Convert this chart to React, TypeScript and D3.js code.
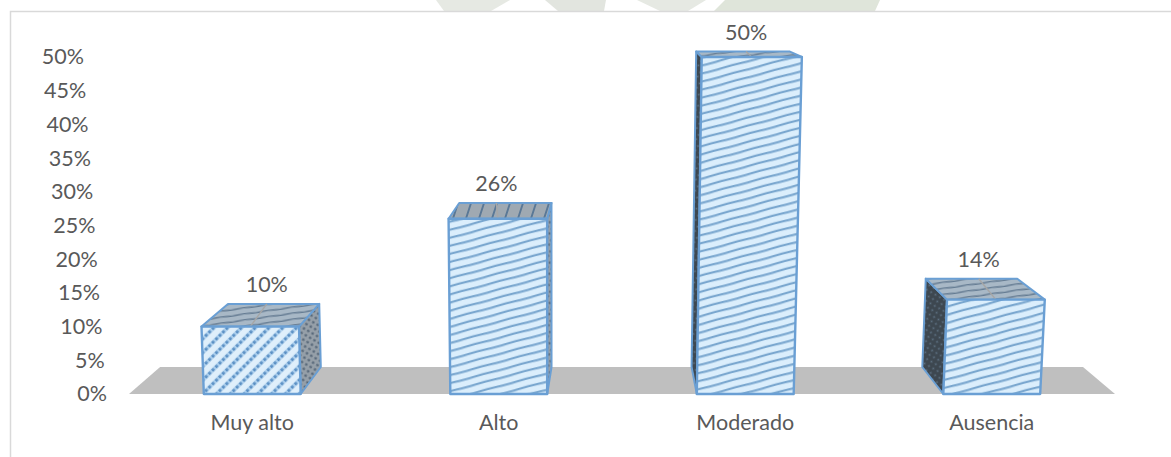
import React from 'react';
import * as d3 from 'd3';

const categories = ['Muy alto', 'Alto', 'Moderado', 'Ausencia'];
const percentages = [10, 26, 50, 14];
const labelNudge = [0, -7, 6, 2];

const width = 1171;
const height = 457;
const font = 'Lato, "Open Sans", sans-serif';
const textColor = '#595959';
const edge = '#6a9fd4';

// the 3d box is faked with a simple perspective, front plane -> back plane
const floorBackY = 367;
const depthScale = 0.936;
const depthCenter = 615;
const spread = 0.00067;
const spreadCenter = 550;

const y = d3.scaleLinear().domain([0, 50]).range([394, 57]);
const tickRight = d3.scaleLinear().domain([0, 50]).range([107, 84]);
const x = d3.scaleBand<string>().domain(categories).range([129, 1115]).paddingInner(0.607).paddingOuter(0.3035);

type Pt = [number, number];
const front = (px: number, v: number): Pt => [px + (px - spreadCenter) * spread * v, y(v)];
const back = (px: number, v: number): Pt => {
  const [fx, fy] = front(px, v);
  return [depthCenter + (fx - depthCenter) * depthScale, floorBackY - (y(0) - fy) * depthScale];
};
const poly = (pts: Pt[]) => d3.line().curve(d3.curveLinearClosed)(pts) || '';

const Defs = () => (
  <defs>
    <pattern id="frontDots" width="13" height="13" patternUnits="userSpaceOnUse" patternTransform="rotate(-45) scale(0.75)">
      <rect width="13" height="13" fill="#dfeffb" />
      <line x1="0" y1="3.5" x2="13" y2="3.5" stroke="#a9cdec" strokeWidth="5" />
      <line x1="0" y1="3.5" x2="13" y2="3.5" stroke="#5b90c4" strokeWidth="4" strokeDasharray="3.5 3" />
    </pattern>
    <pattern id="frontWave" width="40" height="7.8" patternUnits="userSpaceOnUse" patternTransform="rotate(-15)">
      <rect width="40" height="7.8" fill="#dbeefc" />
      <path d="M0 3 Q10 2.5 20 3 T40 3" fill="none" stroke="#7aa7cf" strokeWidth="2.1" />
    </pattern>
    <pattern id="topStreak" width="24" height="6" patternUnits="userSpaceOnUse" patternTransform="rotate(-8)">
      <rect width="24" height="6" fill="#a8b8c6" />
      <path d="M0 3 Q6 2.2 12 3 T24 3" fill="none" stroke="#647b92" strokeWidth="1.3" />
    </pattern>
    <pattern id="topVert" width="13" height="16" patternUnits="userSpaceOnUse" patternTransform="skewX(-18)">
      <rect width="13" height="16" fill="#9fa9b2" />
      <line x1="4" y1="0" x2="4" y2="16" stroke="#5a7896" strokeWidth="2" />
    </pattern>
    <pattern id="sideLight" width="5" height="5" patternUnits="userSpaceOnUse" patternTransform="rotate(30)">
      <rect width="5" height="5" fill="#959fa8" />
      <circle cx="2.5" cy="2.5" r="1.3" fill="#566778" />
    </pattern>
    <pattern id="sideDark" width="5" height="5" patternUnits="userSpaceOnUse" patternTransform="rotate(30)">
      <rect width="5" height="5" fill="#3d4750" />
      <circle cx="2.5" cy="2.5" r="1" fill="#5d7183" />
    </pattern>
  </defs>
);

export default function App() {
  return (
    <svg width={width} height={height} style={{ position: 'absolute', left: 0, top: 0, background: '#fff' }}>
      <Defs />

      {/* faded page watermark behind the chart */}
      <g fill="#e6e9e3">
        <path d={poly([[436, 0], [510, 0], [491, 11], [444, 11]])} />
        <path d={poly([[545, 0], [606, 0], [604, 11], [558, 11]])} fill="#e2e5df" />
        <path d={poly([[637, 0], [706, 0], [688, 11], [660, 11]])} />
        <path d={poly([[725, 0], [880, 0], [875, 11], [714, 11]])} fill="#dfe5da" />
      </g>

      {/* chart frame */}
      <path d={`M10.5 ${height}V11.5H${width}`} fill="none" stroke="#d9d9d9" strokeWidth="1.5" />

      {/* floor */}
      <path
        d={poly([
          [129, y(0)],
          [depthCenter + (129 - depthCenter) * depthScale, floorBackY],
          [depthCenter + (1115 - depthCenter) * depthScale, floorBackY],
          [1115, y(0)],
        ])}
        fill="#bfbfbf"
      />

      {y.ticks(10).map(t => (
        <text
          key={t}
          x={tickRight(t)}
          y={y(t) + 2}
          textAnchor="end"
          dominantBaseline="middle"
          fontFamily={font}
          fontSize="21.5"
          fill={textColor}
        >
          {t}%
        </text>
      ))}

      {categories.map((c, i) => {
        const v = percentages[i];
        const x0 = x(c) as number;
        const x1 = x0 + x.bandwidth();
        const leftOfCenter = (x0 + x1) / 2 < depthCenter;
        // side face that can be seen depends on which side of the center the bar stands
        const sideX = leftOfCenter ? x1 : x0;
        const sideFill = leftOfCenter ? 'url(#sideLight)' : 'url(#sideDark)';
        const frontFill = i === 0 ? 'url(#frontDots)' : 'url(#frontWave)';
        const topFill = i === 1 ? 'url(#topVert)' : 'url(#topStreak)';
        const backTopY = back(x0, v)[1];
        const frontMid = (front(x0, v)[0] + front(x1, v)[0]) / 2;
        const labelX = depthCenter + ((x0 + x1) / 2 - depthCenter) * 0.96 + labelNudge[i];

        return (
          <g key={c} stroke={edge} strokeWidth="2" strokeLinejoin="round">
            <path d={poly([front(sideX, 0), front(sideX, v), back(sideX, v), back(sideX, 0)])} fill={sideFill} />
            <path d={poly([front(x0, v), front(x1, v), back(x1, v), back(x0, v)])} fill={topFill} />
            <line x1={labelX} y1={backTopY} x2={frontMid} y2={y(v)} stroke="#a6a6a6" strokeWidth="1.5" />
            <path d={poly([front(x0, 0), front(x0, v), front(x1, v), front(x1, 0)])} fill={frontFill} strokeWidth="2.4" />
            <text
              x={labelX}
              y={backTopY - 17}
              textAnchor="middle"
              dominantBaseline="middle"
              fontFamily={font}
              fontSize="21.5"
              fill={textColor}
              stroke="none"
            >
              {v}%
            </text>
            <text
              x={(x0 + x1) / 2}
              y={425}
              textAnchor="middle"
              dominantBaseline="middle"
              fontFamily={font}
              fontSize="21.5"
              fill={textColor}
              stroke="none"
            >
              {c}
            </text>
          </g>
        );
      })}
    </svg>
  );
}
